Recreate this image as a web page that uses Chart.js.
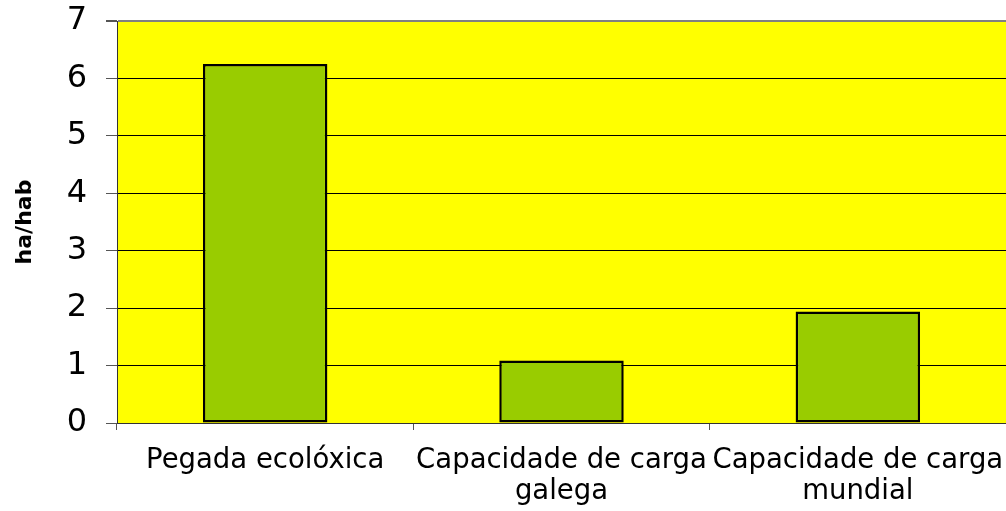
<!DOCTYPE html>
<html>
<head>
<meta charset="utf-8">
<script src="https://cdn.jsdelivr.net/npm/chart.js@4"></script>
<style>
  html, body { margin: 0; padding: 0; background: #fff; }
  #wrap { width: 1006px; height: 511px; }
</style>
</head>
<body>
<div id="wrap"><canvas id="graph"></canvas></div>
<script>
var categories = [
  ['Pegada ecolóxica'],
  ['Capacidade de carga', 'galega'],
  ['Capacidade de carga', 'mundial']
];
var values = [6.25, 1.09, 1.94];
var yTicks = [0, 1, 2, 3, 4, 5, 6, 7];
var yTitle = 'ha/hab';

// yellow plot background
var plotBg = {
  id: 'plotBg',
  beforeDraw: function(chart){
    var a = chart.chartArea;
    var ctx = chart.ctx;
    ctx.save();
    ctx.fillStyle = '#FFFF00';
    ctx.fillRect(a.left, a.top, a.right - a.left, a.bottom - a.top);
    ctx.restore();
  }
};

new Chart(document.getElementById('graph'), {
  type: 'bar',
  data: {
    labels: categories,
    datasets: [{
      data: values,
      backgroundColor: '#99CC00',
      borderColor: '#000000',
      borderWidth: 2.5,
      borderSkipped: false,
      categoryPercentage: 1,
      barPercentage: 0.42
    }]
  },
  options: {
    responsive: true,
    maintainAspectRatio: false,
    animation: false,
    layout: { padding: { top: 21, left: 8, right: 0, bottom: 0 } },
    plugins: {
      legend: { display: false },
      tooltip: { enabled: false }
    },
    scales: {
      y: {
        min: 0,
        max: 7,
        afterBuildTicks: function(scale){
          scale.ticks = yTicks.map(function(v){ return { value: v }; });
        },
        afterFit: function(scale){
          scale.width = 109;
          scale.paddingTop = 0;
          scale.paddingBottom = 0;
        },
        ticks: {
          color: '#000',
          font: { family: 'DejaVu Sans', size: 32 },
          padding: 19
        },
        grid: {
          color: function(ctx){
            if (ctx.tick && ctx.tick.value === 7) return '#808080';
            return '#000';
          },
          lineWidth: function(ctx){
            if (ctx.tick && ctx.tick.value === 7) return 2;
            return 1;
          },
          tickColor: '#555',
          tickLength: 11
        },
        border: { color: '#333', width: 1 },
        title: {
          display: true,
          text: yTitle,
          color: '#000',
          font: { family: 'DejaVu Sans', size: 22, weight: 'bold' },
          padding: { top: 4, bottom: 4 }
        }
      },
      x: {
        afterFit: function(scale){
          scale.height = 88;
          scale.paddingLeft = 0;
          scale.paddingRight = 0;
        },
        ticks: {
          color: '#000',
          font: { family: 'DejaVu Sans', size: 27.5, lineHeight: 1.1 },
          maxRotation: 0,
          autoSkip: false,
          padding: 16
        },
        grid: {
          drawOnChartArea: false,
          tickColor: '#555',
          tickLength: 7
        },
        border: { color: '#333', width: 1 }
      }
    }
  },
  plugins: [plotBg]
});
</script>
</body>
</html>
